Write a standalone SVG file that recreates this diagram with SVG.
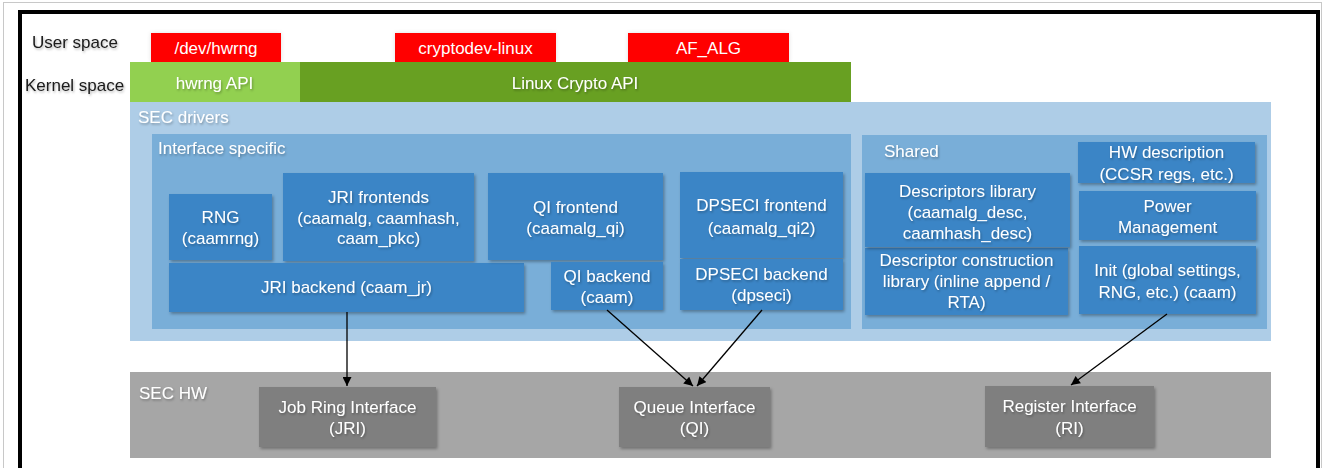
<svg xmlns="http://www.w3.org/2000/svg" width="1325" height="468" viewBox="0 0 1325 468">
<style>
text{font-family:"Liberation Sans",Arial,sans-serif;font-size:17px}
.w{fill:#ffffff}
.k{fill:#1a1a1a}
.c{text-anchor:middle}
.red{fill:#ff0000}
.blue{fill:#3b85c6}
.hw{fill:#7f7f7f}
.ts{filter:url(#tsh)}
.bs{filter:url(#bsh)}
.conn{stroke:#000;stroke-width:1.3;fill:none;marker-end:url(#ah)}
</style>
<defs>
<filter id="bsh" x="-10%" y="-10%" width="130%" height="140%">
<feDropShadow dx="1.5" dy="2" stdDeviation="1.5" flood-color="#000" flood-opacity="0.3"/>
</filter>
<filter id="tsh" x="-10%" y="-30%" width="130%" height="170%">
<feDropShadow dx="1" dy="1.5" stdDeviation="1" flood-color="#000" flood-opacity="0.3"/>
</filter>
<filter id="glow" x="-10%" y="-40%" width="120%" height="180%">
<feDropShadow dx="0" dy="0" stdDeviation="2" flood-color="#000" flood-opacity="0.12"/>
</filter>
<marker id="ah" viewBox="0 0 10 10" refX="10" refY="5" markerWidth="10" markerHeight="9" markerUnits="userSpaceOnUse" orient="auto">
<path d="M0,0 L10,5 L0,10 Z" fill="#000"/>
</marker>
</defs>
<rect x="0" y="0" width="1325" height="468" fill="#fff"/>
<rect x="3.5" y="2.5" width="1318" height="480" fill="none" stroke="#c8c8c8" stroke-width="1"/>
<rect x="20" y="12" width="1298" height="470" fill="none" stroke="#000" stroke-width="4"/>

<g id="user-space-label"><text class="k ts" x="32" y="48">User space</text></g>
<g id="kernel-space-label"><text class="k ts" x="25" y="91">Kernel space</text></g>

<g id="dev-hwrng"><rect class="red" x="151" y="33" width="130" height="29" filter="url(#glow)"/><text class="w c" x="216" y="54">/dev/hwrng</text></g>
<g id="cryptodev-linux"><rect class="red" x="395" y="33" width="161" height="29" filter="url(#glow)"/><text class="w c" x="475.5" y="54">cryptodev-linux</text></g>
<g id="af-alg"><rect class="red" x="628" y="33" width="161" height="30" filter="url(#glow)"/><text class="w c" x="708.5" y="54">AF_ALG</text></g>

<g id="hwrng-api"><rect x="130" y="62" width="170" height="41" fill="#92d050"/><text class="w c ts" x="214.5" y="89">hwrng API</text></g>
<g id="linux-crypto-api"><rect x="300" y="62" width="551" height="41" fill="#68a022"/><text class="w c ts" x="575" y="89">Linux Crypto API</text></g>

<g id="sec-drivers"><rect x="130" y="102" width="1141" height="239" fill="#aecde7"/><text class="w ts" x="138" y="123">SEC drivers</text></g>
<g id="interface-specific"><rect x="152" y="134" width="699" height="195" fill="#79aed8"/><text class="w ts" x="158" y="154">Interface specific</text></g>
<g id="shared"><rect x="862" y="135" width="405" height="194" fill="#79aed8"/><text class="w ts" x="884" y="157">Shared</text></g>

<g id="rng"><rect class="blue bs" x="169" y="194" width="103" height="66"/><text class="w c ts" x="220.5"><tspan x="220.5" y="223">RNG</tspan><tspan x="220.5" y="244">(caamrng)</tspan></text></g>
<g id="jri-frontends"><rect class="blue bs" x="283" y="173" width="191" height="88"/><text class="w c ts"><tspan x="378.5" y="203">JRI frontends</tspan><tspan x="378.5" y="223.5">(caamalg, caamhash,</tspan><tspan x="378.5" y="244">caam_pkc)</tspan></text></g>
<g id="jri-backend"><rect class="blue bs" x="169" y="263" width="355" height="49"/><text class="w c ts" x="346.5" y="293">JRI backend (caam_jr)</text></g>
<g id="qi-frontend"><rect class="blue bs" x="488" y="173" width="175" height="87"/><text class="w c ts"><tspan x="575.5" y="212.5">QI frontend</tspan><tspan x="575.5" y="234">(caamalg_qi)</tspan></text></g>
<g id="qi-backend"><rect class="blue bs" x="551" y="262" width="112" height="48"/><text class="w c ts"><tspan x="607" y="281.5">QI backend</tspan><tspan x="607" y="302.5">(caam)</tspan></text></g>
<g id="dpseci-frontend"><rect class="blue bs" x="680" y="172" width="163" height="86"/><text class="w c ts"><tspan x="761.5" y="211">DPSECI frontend</tspan><tspan x="761.5" y="234">(caamalg_qi2)</tspan></text></g>
<g id="dpseci-backend"><rect class="blue bs" x="680" y="259" width="163" height="51"/><text class="w c ts"><tspan x="761.5" y="280">DPSECI backend</tspan><tspan x="761.5" y="301">(dpseci)</tspan></text></g>

<g id="hw-description"><rect class="blue bs" x="1078" y="142" width="177" height="41"/><text class="w c ts"><tspan x="1166.5" y="158">HW description</tspan><tspan x="1166.5" y="180">(CCSR regs, etc.)</tspan></text></g>
<g id="power-management"><rect class="blue bs" x="1079" y="191" width="177" height="49"/><text class="w c ts"><tspan x="1167.5" y="212">Power</tspan><tspan x="1167.5" y="232.5">Management</tspan></text></g>
<g id="init"><rect class="blue bs" x="1079" y="246" width="177" height="68"/><text class="w c ts"><tspan x="1167.5" y="276">Init (global settings,</tspan><tspan x="1167.5" y="297.5">RNG, etc.) (caam)</tspan></text></g>
<g id="descriptor-construction"><rect class="blue bs" x="865" y="248" width="203" height="67"/><text class="w c ts"><tspan x="966.5" y="266">Descriptor construction</tspan><tspan x="966.5" y="287">library (inline append /</tspan><tspan x="966.5" y="307.5">RTA)</tspan></text></g>
<g id="descriptors-library"><rect class="blue bs" x="865" y="173" width="205" height="74"/><text class="w c ts"><tspan x="967.5" y="196.5">Descriptors library</tspan><tspan x="967.5" y="217.5">(caamalg_desc,</tspan><tspan x="967.5" y="238.5">caamhash_desc)</tspan></text></g>

<g id="sec-hw"><rect x="130" y="372" width="1141" height="86" fill="#a6a6a6"/><text class="w ts" x="139" y="399">SEC HW</text></g>
<g id="jri"><rect class="hw bs" x="259" y="387" width="177" height="60"/><text class="w c ts"><tspan x="347.5" y="412.5">Job Ring Interface</tspan><tspan x="347.5" y="434">(JRI)</tspan></text></g>
<g id="qi"><rect class="hw bs" x="619" y="387" width="151" height="60"/><text class="w c ts"><tspan x="694.5" y="412.5">Queue Interface</tspan><tspan x="694.5" y="434">(QI)</tspan></text></g>
<g id="ri"><rect class="hw bs" x="985" y="386" width="169" height="61"/><text class="w c ts"><tspan x="1069.5" y="412">Register Interface</tspan><tspan x="1069.5" y="433.5">(RI)</tspan></text></g>

<g id="connectors">
<line class="conn" x1="347" y1="312" x2="347" y2="386"/>
<line class="conn" x1="607" y1="310" x2="693" y2="386"/>
<line class="conn" x1="762" y1="310" x2="697" y2="386"/>
<line class="conn" x1="1167" y1="314" x2="1071" y2="385"/>
</g>
</svg>
